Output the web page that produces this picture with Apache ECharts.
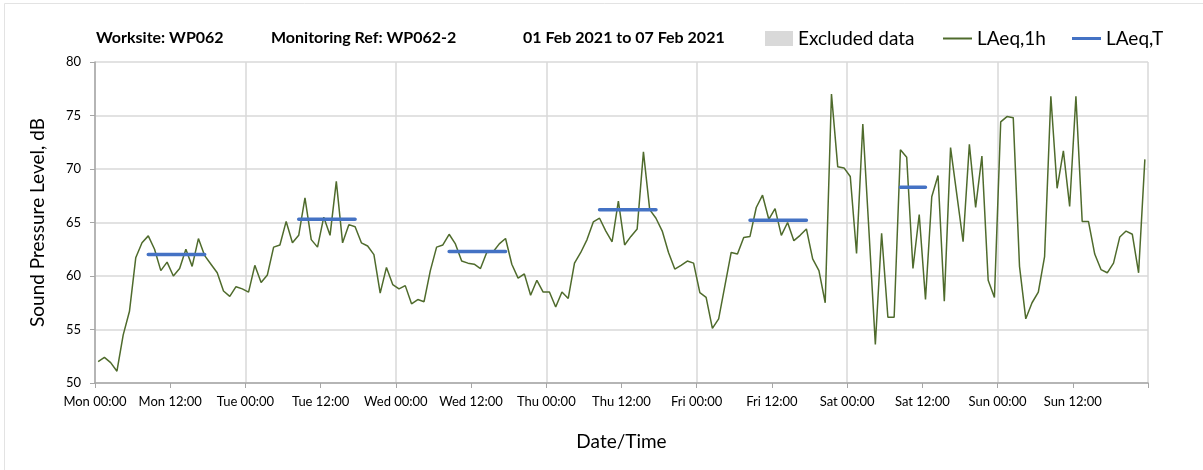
<!DOCTYPE html>
<html>
<head>
<meta charset="utf-8">
<script src="https://cdn.jsdelivr.net/npm/echarts@6/dist/echarts.min.js"></script>
<style>
  html, body { margin: 0; padding: 0; background: #fff; }
  #chart { width: 1203px; height: 470px; }
</style>
</head>
<body>
<div id="chart"></div>
<script>
// Hourly LAeq,1h values, Mon 00:00 .. Sun 23:00 (plotted at mid-hour)
const hourlyLevels = [
  // Mon
  52.0, 52.4, 51.9, 51.1, 54.5, 56.7, 61.7, 63.1, 63.75, 62.5, 60.5, 61.3,
  60.0, 60.7, 62.5, 60.9, 63.5, 61.9, 61.1, 60.3, 58.6, 58.1, 59.0, 58.8,
  // Tue
  58.5, 61.0, 59.4, 60.1, 62.7, 62.9, 65.1, 63.1, 63.8, 67.3, 63.4, 62.7,
  65.5, 63.8, 68.85, 63.1, 64.8, 64.6, 63.1, 62.8, 62.0, 58.4, 60.8, 59.2,
  // Wed
  58.8, 59.1, 57.4, 57.8, 57.6, 60.5, 62.7, 62.9, 63.9, 63.0, 61.4, 61.2,
  61.1, 60.7, 62.2, 62.25, 63.0, 63.5, 61.1, 59.8, 60.2, 58.2, 59.6, 58.5,
  // Thu
  58.5, 57.1, 58.5, 57.9, 61.2, 62.2, 63.4, 65.05, 65.4, 64.2, 63.2, 67.0,
  62.9, 63.7, 64.4, 71.6, 66.2, 65.4, 64.2, 62.2, 60.65, 61.0, 61.4, 61.2,
  // Fri
  58.45, 58.0, 55.1, 56.0, 59.1, 62.2, 62.05, 63.6, 63.7, 66.4, 67.55, 65.3,
  66.3, 63.8, 65.0, 63.3, 63.8, 64.4, 61.6, 60.5, 57.5, 77.0, 70.2, 70.1,
  // Sat
  69.3, 62.1, 74.2, 64.0, 53.6, 64.0, 56.15, 56.15, 71.8, 71.1, 60.7, 65.75,
  57.8, 67.4, 69.4, 57.65, 72.0, 67.6, 63.2, 72.3, 66.4, 71.2, 59.6, 58.0,
  // Sun
  74.4, 74.9, 74.8, 60.9, 56.0, 57.5, 58.5, 61.8, 76.8, 68.2, 71.7, 66.5,
  76.8, 65.1, 65.1, 62.05, 60.6, 60.3, 61.2, 63.65, 64.2, 63.9, 60.3, 70.9
];

// LAeq,T periods (first and last hourly index) and levels
const periodStart = [8, 32, 56, 80, 104, 128];
const periodEnd = [17, 41, 65, 89, 113, 132];
const periodLevel = [62.0, 65.3, 62.3, 66.2, 65.2, 68.3];

const dayNames = ['Mon', 'Tue', 'Wed', 'Thu', 'Fri', 'Sat', 'Sun'];
const titleParts = ['Worksite: WP062', 'Monitoring Ref: WP062-2', '01 Feb 2021 to 07 Feb 2021'];

const FONT = 'Lato, "Open Sans", sans-serif';

const hourlyData = hourlyLevels.map((v, i) => [i + 0.5, v]);

const periodData = [];
periodStart.forEach((s, k) => {
  periodData.push([s + 0.5, periodLevel[k]]);
  periodData.push([periodEnd[k] + 0.5, periodLevel[k]]);
  periodData.push([periodEnd[k] + 0.5, '-']);
});

const chart = echarts.init(document.getElementById('chart'));

const titleLeft = [96, 271, 523];
const legendText = { fontFamily: FONT, fontSize: 19, color: '#000' };

const option = {
  animation: false,
  backgroundColor: '#fff',
  textStyle: { fontFamily: FONT },
  title: titleParts.map((t, i) => ({
    text: t,
    left: titleLeft[i],
    top: 30,
    padding: 0,
    textStyle: { fontFamily: FONT, fontSize: 16, fontWeight: 'bold', color: '#000' }
  })),
  legend: [
    {
      data: [{ name: 'Excluded data', icon: 'rect' }],
      left: 765, top: 29, padding: 0,
      itemWidth: 28, itemHeight: 15,
      textStyle: legendText
    },
    {
      data: [{ name: 'LAeq,1h', icon: 'rect' }],
      left: 943, top: 29, padding: 0,
      itemWidth: 29, itemHeight: 2,
      textStyle: legendText
    },
    {
      data: [{ name: 'LAeq,T', icon: 'rect' }],
      left: 1072, top: 29, padding: 0,
      itemWidth: 29, itemHeight: 3,
      textStyle: legendText
    }
  ],
  grid: { left: 95, right: 55, top: 62, bottom: 87 },
  xAxis: [
    {
      type: 'value',
      min: 0, max: 168, interval: 12,
      name: 'Date/Time',
      nameLocation: 'middle',
      nameGap: 49,
      nameTextStyle: { fontFamily: FONT, fontSize: 19, color: '#000' },
      axisLine: { lineStyle: { color: '#a6a6a6', width: 1.5 } },
      axisTick: { show: true, length: 5, lineStyle: { color: '#a6a6a6' } },
      axisLabel: {
        fontFamily: FONT, fontSize: 13, color: '#000', margin: 12,
        formatter: v => {
          if (v >= 168) return '';
          const d = dayNames[Math.floor(v / 24)];
          return d + ' ' + (v % 24 === 0 ? '00:00' : '12:00');
        }
      },
      splitLine: { show: false }
    },
    {
      type: 'value',
      min: 0, max: 168, interval: 24,
      position: 'bottom',
      axisLine: { show: false },
      axisTick: { show: false },
      axisLabel: { show: false },
      splitLine: { show: true, lineStyle: { color: '#d9d9d9', width: 1.5 } }
    }
  ],
  yAxis: {
    type: 'value',
    min: 50, max: 80, interval: 5,
    name: 'Sound Pressure Level, dB',
    nameLocation: 'middle',
    nameGap: 48,
    nameTextStyle: { fontFamily: FONT, fontSize: 19, color: '#000' },
    axisLine: { show: true, lineStyle: { color: '#a6a6a6', width: 1.5 } },
    axisTick: { show: true, length: 5, lineStyle: { color: '#a6a6a6' } },
    axisLabel: { fontFamily: FONT, fontSize: 13, color: '#000', margin: 14 },
    splitLine: { show: true, lineStyle: { color: '#d9d9d9', width: 1.5 } }
  },
  series: [
    {
      name: 'Excluded data',
      type: 'bar',
      data: [],
      itemStyle: { color: '#d9d9d9' }
    },
    {
      name: 'LAeq,1h',
      type: 'line',
      data: hourlyData,
      showSymbol: false,
      symbol: 'none',
      itemStyle: { color: '#4f6b2c' },
      lineStyle: { color: '#4f6b2c', width: 1.5 },
      z: 3
    },
    {
      name: 'LAeq,T',
      type: 'line',
      data: periodData,
      showSymbol: false,
      symbol: 'none',
      connectNulls: false,
      itemStyle: { color: '#4472c4' },
      lineStyle: { color: '#4472c4', width: 3.5, cap: 'round' },
      z: 4
    }
  ],
  graphic: [
    {
      type: 'rect',
      shape: { x: 4.5, y: 3.5, width: 1300, height: 600 },
      style: { fill: 'none', stroke: '#e3e3e3', lineWidth: 1 },
      silent: true
    }
  ]
};

chart.setOption(option);
</script>
</body>
</html>
